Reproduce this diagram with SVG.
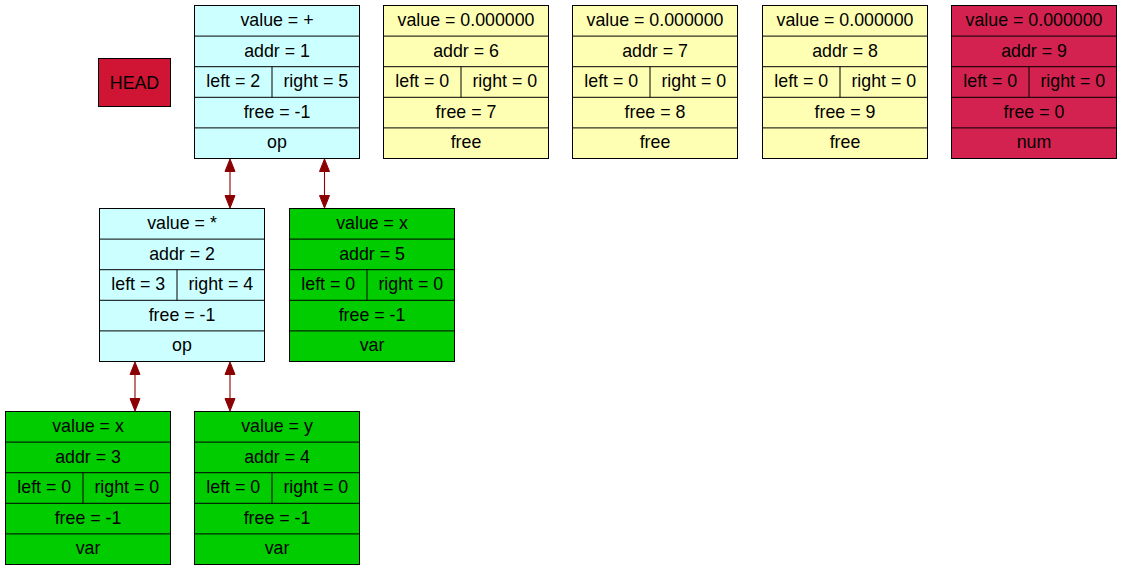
<svg xmlns="http://www.w3.org/2000/svg" width="1123" height="571" viewBox="0 0 1123 571">
<style>
.b{stroke:#000;stroke-width:1}
.l{stroke:#000;stroke-width:1;fill:none}
text{font-family:"Liberation Sans",Arial,sans-serif;font-size:17.8px;fill:#000;text-anchor:middle}
.cyan{fill:#ccffff}
.yel{fill:#ffffb3}
.grn{fill:#00cc00}
.red{fill:#d3224f}
.e{stroke:#8b0000;stroke-width:1.1;fill:none}
.ah{fill:#8b0000;stroke:#8b0000;stroke-width:1}
</style>
<defs>
<g id="grid">
<rect class="l" x="0" y="0" width="165" height="153"/>
<line class="l" x1="0" y1="30.6" x2="165" y2="30.6"/>
<line class="l" x1="0" y1="61.2" x2="165" y2="61.2"/>
<line class="l" x1="0" y1="91.8" x2="165" y2="91.8"/>
<line class="l" x1="0" y1="122.4" x2="165" y2="122.4"/>
<line class="l" x1="77.5" y1="61.2" x2="77.5" y2="91.8"/>
</g>
</defs>
<rect x="0" y="0" width="1123" height="571" fill="#fff"/>
<g id="head">
<rect x="98.5" y="58.5" width="72" height="48" fill="#d01434" class="b"/>
<text x="134.5" y="88.5">HEAD</text>
</g>
<g id="n1" transform="translate(194.5,5.5)">
<rect class="cyan" x="0" y="0" width="165" height="153"/>
<use href="#grid"/>
<text x="82.5" y="20.5">value = +</text>
<text x="82.5" y="51">addr = 1</text>
<text x="38.75" y="81.6">left = 2</text>
<text x="121.25" y="81.6">right = 5</text>
<text x="82.5" y="112.2">free = -1</text>
<text x="82.5" y="142.8">op</text>
</g>
<g id="n6" transform="translate(383.5,5.5)">
<rect class="yel" x="0" y="0" width="165" height="153"/>
<use href="#grid"/>
<text x="82.5" y="20.5">value = 0.000000</text>
<text x="82.5" y="51">addr = 6</text>
<text x="38.75" y="81.6">left = 0</text>
<text x="121.25" y="81.6">right = 0</text>
<text x="82.5" y="112.2">free = 7</text>
<text x="82.5" y="142.8">free</text>
</g>
<g id="n7" transform="translate(572.5,5.5)">
<rect class="yel" x="0" y="0" width="165" height="153"/>
<use href="#grid"/>
<text x="82.5" y="20.5">value = 0.000000</text>
<text x="82.5" y="51">addr = 7</text>
<text x="38.75" y="81.6">left = 0</text>
<text x="121.25" y="81.6">right = 0</text>
<text x="82.5" y="112.2">free = 8</text>
<text x="82.5" y="142.8">free</text>
</g>
<g id="n8" transform="translate(762.5,5.5)">
<rect class="yel" x="0" y="0" width="165" height="153"/>
<use href="#grid"/>
<text x="82.5" y="20.5">value = 0.000000</text>
<text x="82.5" y="51">addr = 8</text>
<text x="38.75" y="81.6">left = 0</text>
<text x="121.25" y="81.6">right = 0</text>
<text x="82.5" y="112.2">free = 9</text>
<text x="82.5" y="142.8">free</text>
</g>
<g id="n9" transform="translate(951.5,5.5)">
<rect class="red" x="0" y="0" width="165" height="153"/>
<use href="#grid"/>
<text x="82.5" y="20.5">value = 0.000000</text>
<text x="82.5" y="51">addr = 9</text>
<text x="38.75" y="81.6">left = 0</text>
<text x="121.25" y="81.6">right = 0</text>
<text x="82.5" y="112.2">free = 0</text>
<text x="82.5" y="142.8">num</text>
</g>
<g id="n2" transform="translate(99.5,208.5)">
<rect class="cyan" x="0" y="0" width="165" height="153"/>
<use href="#grid"/>
<text x="82.5" y="20.5">value = *</text>
<text x="82.5" y="51">addr = 2</text>
<text x="38.75" y="81.6">left = 3</text>
<text x="121.25" y="81.6">right = 4</text>
<text x="82.5" y="112.2">free = -1</text>
<text x="82.5" y="142.8">op</text>
</g>
<g id="n5" transform="translate(289.5,208.5)">
<rect class="grn" x="0" y="0" width="165" height="153"/>
<use href="#grid"/>
<text x="82.5" y="20.5">value = x</text>
<text x="82.5" y="51">addr = 5</text>
<text x="38.75" y="81.6">left = 0</text>
<text x="121.25" y="81.6">right = 0</text>
<text x="82.5" y="112.2">free = -1</text>
<text x="82.5" y="142.8">var</text>
</g>
<g id="n3" transform="translate(5.5,411.5)">
<rect class="grn" x="0" y="0" width="165" height="153"/>
<use href="#grid"/>
<text x="82.5" y="20.5">value = x</text>
<text x="82.5" y="51">addr = 3</text>
<text x="38.75" y="81.6">left = 0</text>
<text x="121.25" y="81.6">right = 0</text>
<text x="82.5" y="112.2">free = -1</text>
<text x="82.5" y="142.8">var</text>
</g>
<g id="n4" transform="translate(194.5,411.5)">
<rect class="grn" x="0" y="0" width="165" height="153"/>
<use href="#grid"/>
<text x="82.5" y="20.5">value = y</text>
<text x="82.5" y="51">addr = 4</text>
<text x="38.75" y="81.6">left = 0</text>
<text x="121.25" y="81.6">right = 0</text>
<text x="82.5" y="112.2">free = -1</text>
<text x="82.5" y="142.8">var</text>
</g>
<g id="edges">
<line class="e" x1="230" y1="170" x2="230" y2="197"/>
<polygon class="ah" points="230,159 225,171.5 235,171.5"/>
<polygon class="ah" points="230,208 225,195.5 235,195.5"/>
<line class="e" x1="324.5" y1="170" x2="324.5" y2="197"/>
<polygon class="ah" points="324.5,159 319.5,171.5 329.5,171.5"/>
<polygon class="ah" points="324.5,208 319.5,195.5 329.5,195.5"/>
<line class="e" x1="135" y1="373" x2="135" y2="400"/>
<polygon class="ah" points="135,362 130,374.5 140,374.5"/>
<polygon class="ah" points="135,411 130,398.5 140,398.5"/>
<line class="e" x1="230" y1="373" x2="230" y2="400"/>
<polygon class="ah" points="230,362 225,374.5 235,374.5"/>
<polygon class="ah" points="230,411 225,398.5 235,398.5"/>
</g>
</svg>
